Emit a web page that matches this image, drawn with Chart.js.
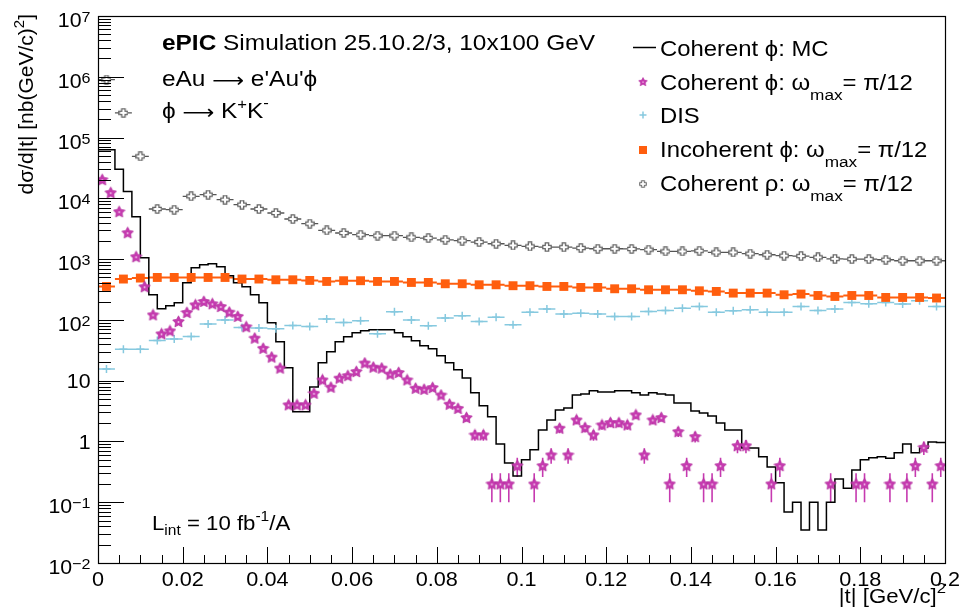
<!DOCTYPE html>
<html><head><meta charset="utf-8">
<script src="https://cdn.jsdelivr.net/npm/chart.js"></script>
<style>html,body{margin:0;padding:0;background:#fff;overflow:hidden}canvas{display:block}</style>
</head><body>
<canvas id="chart" width="963" height="613"></canvas>
<script>
// ---- binning (|t| in (GeV/c)^2) ----
const PHI_BIN_WIDTH = 0.002;   // 100 bins from 0 to 0.2
const WIDE_BIN_WIDTH = 0.004;  // 50 bins from 0 to 0.2

// ---- series values (nb/(GeV/c)^2) ----
const coherentPhiMC = [
  63000, 63000, 30000, 12900, 5000, 1050, 259, 152, 171, 191,
  408, 721, 808, 839, 749, 532, 408, 351, 259, 191,
  89.5, 43.6, 16.3, 3.07, 3.07, 7.9, 19.7, 29.9, 43.6, 52.7,
  61.4, 66.1, 68.7, 68.7, 68.7, 61.4, 52.7, 45.3, 37.5, 33.4,
  25.6, 19.7, 15.1, 11.1, 6.3, 3.85, 2.54, 0.91, 0.44, 0.27,
  0.50, 0.73, 1.55, 2.26, 3.30, 3.56, 5.83, 6.06, 6.80, 6.54,
  6.54, 6.80, 6.80, 6.3, 5.83, 6.3, 6.06, 5.83, 4.31, 4.31,
  3.18, 2.95, 2.63, 2.02, 1.55, 1.55, 0.78, 0.78, 0.56, 0.38,
  0.21, 0.069, 0.10, 0.035, 0.10, 0.035, 0.10, 0.24, 0.17, 0.34,
  0.50, 0.54, 0.56, 0.53, 0.65, 0.91, 0.65, 0.78, 0.98, 0.96
];
const coherentPhiOmega = [
  20300, 12400, 6030, 2720, 1094, 351, 121, 59, 66, 94,
  132, 177, 201, 184, 166, 134, 114, 77, 50, 34,
  24.4, 16.1, 4.0, 4.0, 4.0, 6.2, 10.3, 7.8, 11.0, 12.1,
  14.1, 19.5, 16.7, 16.1, 12.8, 13.6, 10.3, 7.5, 7.2, 7.7,
  5.8, 4.1, 3.5, 2.47, 1.28, 1.28, 0.2, 0.2, 0.2, 0.4,
  null, 0.2, 0.4, 0.6, 1.65, 0.6, 2.26, 1.69, 1.28, 1.87,
  2.04, 2.04, 1.87, 2.74, 0.6, 2.26, 2.47, 0.2, 1.45, 0.4,
  1.2, 0.2, 0.2, 0.4, null, 0.85, 0.85, null, null, 0.2,
  0.4, null, null, null, null, null, 0.2, null, null, 0.2,
  0.2, null, null, 0.2, null, 0.2, 0.4, 0.8, 0.2, 0.4
];
const coherentPhiOmegaErr = [
  32, 25, 17, 12, 7.4, 4.2, 2.5, 1.7, 1.8, 2.2,
  2.6, 3.0, 3.2, 3.0, 2.9, 2.6, 2.4, 2.0, 1.6, 1.3,
  1.1, 0.9, 0.45, 0.45, 0.45, 0.56, 0.72, 0.62, 0.74, 0.78,
  0.84, 1.0, 0.91, 0.9, 0.8, 0.82, 0.72, 0.61, 0.6, 0.62,
  0.54, 0.45, 0.42, 0.35, 0.25, 0.25, 0.1, 0.1, 0.1, 0.14,
  null, 0.1, 0.14, 0.17, 0.29, 0.17, 0.34, 0.29, 0.25, 0.31,
  0.32, 0.32, 0.31, 0.37, 0.17, 0.34, 0.35, 0.1, 0.27, 0.14,
  0.24, 0.1, 0.1, 0.14, null, 0.21, 0.21, null, null, 0.1,
  0.14, null, null, null, null, null, 0.1, null, null, 0.1,
  0.1, null, null, 0.1, null, 0.1, 0.14, 0.2, 0.1, 0.14
];
const disValues = [
  15.5, 33.0, 33.0, 45.8, 48.3, 53.3, 85.3, 100, 75, 73.3,
  71.3, 80.9, 77.8, 103, 90.6, 96.6, 59, 136, 100, 80,
  107, 117, 94, 111, 83, 134, 151, 125, 129, 125,
  114, 114, 137, 143, 156, 166, 134, 141, 147, 134,
  134, 166, 143, 151, 194, 184, 194, 182, 206, 166
];
const incoherentPhiOmega = [
  355, 470, 488, 499, 499, 499, 499, 499, 470, 470,
  457, 457, 446, 429, 441, 441, 429, 429, 413, 413,
  393, 393, 378, 378, 365, 365, 355, 355, 342, 342,
  325, 325, 313, 313, 313, 301, 294, 276, 276, 276,
  259, 266, 252, 243, 252, 252, 234, 234, 234, 229
];
const coherentRhoOmega = [
  900000, 255000, 49100, 6680, 6500, 10800, 11500, 9500, 7870, 6680,
  5740, 4570, 3830, 2970, 2690, 2520, 2430, 2430, 2280, 2220,
  2080, 2010, 1910, 1790, 1680, 1620, 1580, 1570, 1520, 1480,
  1480, 1470, 1430, 1340, 1340, 1370, 1290, 1290, 1230, 1180,
  1140, 1120, 1070, 1010, 1000, 1000, 977, 940, 940, 940
];

// ---- tick labels ----
const xTickValues = [0, 0.02, 0.04, 0.06, 0.08, 0.1, 0.12, 0.14, 0.16, 0.18, 0.2];
const xTickLabels = ['0', '0.02', '0.04', '0.06', '0.08', '0.1', '0.12', '0.14', '0.16', '0.18', '0.2'];
const xMinorStep = 0.005;
const yTickValues = [1e-2, 1e-1, 1, 10, 1e2, 1e3, 1e4, 1e5, 1e6, 1e7];
const yTickLabels = [['10','\u22122'],['10','\u22121'],['1',''],['10',''],['10','2'],['10','3'],['10','4'],['10','5'],['10','6'],['10','7']];

const COLORS = { mc: '#000000', star: '#c63ab0', dis: '#86c9df', incoh: '#ff5e0e', rho: '#666666' };
const FONT = '"Liberation Sans", Arial, Helvetica, sans-serif';
const ARROW_FONT = '"DejaVu Sans", sans-serif';
const SX = 1.11;

// ---- marker images ----
function makeStar(size, color) {
  const c = document.createElement('canvas'); c.width = c.height = size;
  const g = c.getContext('2d'); const cx = size / 2, cy = size / 2 + 0.4, R = size / 2 - 0.4, r = R * 0.52;
  g.beginPath();
  for (let k = 0; k < 10; k++) {
    const a = -Math.PI / 2 + k * Math.PI / 5, rad = (k % 2) ? r : R;
    const px = cx + rad * Math.cos(a), py = cy + rad * Math.sin(a);
    k ? g.lineTo(px, py) : g.moveTo(px, py);
  }
  g.closePath(); g.fillStyle = color; g.fill();
  g.lineWidth = 0.7; g.strokeStyle = '#b02c9c'; g.stroke();
  g.beginPath(); g.arc(cx, cy, R * 0.16, 0, 2 * Math.PI); g.fillStyle = '#f0c4ea'; g.fill();
  return c;
}
function makeOpenCross(size, color) {
  const c = document.createElement('canvas'); c.width = c.height = size;
  const g = c.getContext('2d'); const m = size / 2, a = size / 2 - 0.8, h = 1.7;
  g.beginPath();
  const pts = [[-h,-a],[h,-a],[h,-h],[a,-h],[a,h],[h,h],[h,a],[-h,a],[-h,h],[-a,h],[-a,-h],[-h,-h]];
  pts.forEach((p, i) => i ? g.lineTo(m + p[0], m + p[1]) : g.moveTo(m + p[0], m + p[1]));
  g.closePath(); g.fillStyle = '#fff'; g.fill(); g.lineWidth = 1.3; g.strokeStyle = color; g.stroke();
  return c;
}
const starImg = makeStar(13, COLORS.star);
const rhoImg = makeOpenCross(10, COLORS.rho);

function centerPoints(values, w) {
  const out = [];
  values.forEach((v, i) => { if (v !== null) out.push({ x: (i + 0.5) * w, y: v }); });
  return out;
}
function histPoints(values, w) {
  const out = [];
  values.forEach((v, i) => { out.push({ x: i * w, y: v }); out.push({ x: (i + 1) * w, y: v }); });
  return out;
}

function drawRich(ctx, x, y, segs, opt = {}) {
  const sx = opt.sx === undefined ? SX : opt.sx, align = opt.align || 'left';
  ctx.save(); ctx.translate(x, y); if (opt.rot) ctx.rotate(opt.rot); ctx.scale(sx, 1);
  ctx.fillStyle = opt.color || '#000'; ctx.textBaseline = 'alphabetic'; ctx.textAlign = 'left';
  const fontOf = s => `${s.bold ? 'bold ' : ''}${s.size}px ${s.family || FONT}`;
  let total = 0;
  const ws = segs.map(s => { ctx.font = fontOf(s); const w = ctx.measureText(s.t).width; total += w; return w; });
  let cx = align === 'right' ? -total : align === 'center' ? -total / 2 : 0;
  segs.forEach((s, k) => { ctx.font = fontOf(s); ctx.fillText(s.t, cx, s.dy || 0); cx += ws[k]; });
  ctx.restore();
}

const rootStyle = {
  id: 'rootStyle',
  beforeDatasetsDraw(chart) {
    const { ctx, chartArea: ca, scales: { x, y } } = chart;
    ctx.save();
    ctx.beginPath(); ctx.rect(ca.left, ca.top, ca.right - ca.left, ca.bottom - ca.top); ctx.clip();
    const hbars = (vals, w, color, lw) => {
      ctx.strokeStyle = color; ctx.lineWidth = lw; ctx.beginPath();
      vals.forEach((v, i) => {
        if (v === null) return;
        const py = y.getPixelForValue(v);
        ctx.moveTo(x.getPixelForValue(i * w), py); ctx.lineTo(x.getPixelForValue((i + 1) * w), py);
      });
      ctx.stroke();
    };
    hbars(disValues, WIDE_BIN_WIDTH, COLORS.dis, 1.5);
    hbars(incoherentPhiOmega, WIDE_BIN_WIDTH, COLORS.incoh, 2);
    hbars(coherentRhoOmega, WIDE_BIN_WIDTH, '#555', 1.3);
    ctx.strokeStyle = COLORS.star; ctx.lineWidth = 1.6; ctx.beginPath();
    coherentPhiOmega.forEach((v, i) => {
      if (v === null) return;
      const e = coherentPhiOmegaErr[i];
      const px = x.getPixelForValue((i + 0.5) * PHI_BIN_WIDTH);
      ctx.moveTo(px, y.getPixelForValue(v + e)); ctx.lineTo(px, y.getPixelForValue(Math.max(v - e, 1e-3)));
    });
    ctx.stroke();
    ctx.restore();
  },
  afterDraw(chart) {
    const { ctx, chartArea: ca, scales: { x, y } } = chart;
    ctx.save();
    // frame
    ctx.strokeStyle = '#000'; ctx.lineWidth = 1.2;
    ctx.strokeRect(Math.round(ca.left) + 0.5, Math.round(ca.top) + 0.5, Math.round(ca.right - ca.left), Math.round(ca.bottom - ca.top));
    // y ticks
    ctx.lineWidth = 1; ctx.beginPath();
    for (let e = -2; e <= 7; e++) {
      const py = Math.round(y.getPixelForValue(Math.pow(10, e))) + 0.5;
      ctx.moveTo(ca.left, py); ctx.lineTo(ca.left + 26, py);
      if (e < 7) for (let k = 2; k <= 9; k++) {
        const pm = Math.round(y.getPixelForValue(k * Math.pow(10, e))) + 0.5;
        ctx.moveTo(ca.left, pm); ctx.lineTo(ca.left + 13, pm);
      }
    }
    // x ticks
    const nMinor = Math.round(0.2 / xMinorStep);
    for (let i = 0; i <= nMinor; i++) {
      const px = Math.round(x.getPixelForValue(i * xMinorStep)) + 0.5;
      const len = (i % 4 === 0) ? 16 : 8;
      ctx.moveTo(px, ca.bottom); ctx.lineTo(px, ca.bottom - len);
    }
    ctx.stroke();
    // x tick labels
    xTickValues.forEach((v, i) => drawRich(ctx, x.getPixelForValue(v), 586, [{ t: xTickLabels[i], size: 19.5 }], { align: 'center' }));
    // y tick labels
    yTickValues.forEach((v, i) => {
      const py = y.getPixelForValue(v); const [b, ex] = yTickLabels[i];
      if (ex) drawRich(ctx, 90.5, py + 11, [{ t: b, size: 20.5 }, { t: ex, size: 15.5, dy: -5 }], { align: 'right', sx: 1.04 });
      else drawRich(ctx, 90.5, py + 7.5, [{ t: b, size: 20.5 }], { align: 'right', sx: 1.04 });
    });
    // axis titles
    drawRich(ctx, 946, 603, [{ t: '|t| [GeV/c]', size: 20 }, { t: '2', size: 15, dy: -10 }], { align: 'right' });
    drawRich(ctx, 33, 14, [{ t: 'd\u03c3/d|t| [nb(GeV/c)', size: 21 }, { t: '2', size: 15, dy: -9 }, { t: ']', size: 21 }], { align: 'right', rot: -Math.PI / 2, sx: 1 });
    // annotations
    drawRich(ctx, 162, 50, [{ t: 'ePIC', size: 22, bold: true }, { t: ' Simulation 25.10.2/3, 10x100 GeV', size: 22 }]);
    drawRich(ctx, 162, 86, [{ t: 'eAu ', size: 22 }, { t: '\u27f6', size: 20, family: ARROW_FONT, dy: 0.5 }, { t: ' e\'Au\'\u03d5', size: 22 }]);
    drawRich(ctx, 162, 118, [{ t: '\u03d5 ', size: 22 }, { t: '\u27f6', size: 20, family: ARROW_FONT, dy: 0.5 }, { t: ' K', size: 22 }, { t: '+', size: 15, dy: -9 }, { t: 'K', size: 22 }, { t: '-', size: 15, dy: -10 }]);
    drawRich(ctx, 152, 530, [{ t: 'L', size: 20 }, { t: 'int', size: 14, dy: 5 }, { t: ' = 10 fb', size: 20 }, { t: '-1', size: 14, dy: -9 }, { t: '/A', size: 20 }]);
    // legend
    const LX = 660, MX = 643, FS = 21.5, SS = 15.5;
    const omegaSegs = (name) => [{ t: name + ': \u03c9', size: FS }, { t: 'max', size: SS, dy: 10 }, { t: '= \u03c0/12', size: FS }];
    const rows = [
      { y: 56, segs: [{ t: 'Coherent \u03d5: MC', size: FS }], kind: 'line' },
      { y: 89.5, segs: omegaSegs('Coherent \u03d5'), kind: 'star' },
      { y: 123, segs: [{ t: 'DIS', size: FS }], kind: 'dis' },
      { y: 157.3, segs: omegaSegs('Incoherent \u03d5'), kind: 'incoh' },
      { y: 190.7, segs: omegaSegs('Coherent \u03c1'), kind: 'rho' }
    ];
    const markerY = [47.5, 81.7, 115, 150, 184];
    rows.forEach((r, i) => {
      drawRich(ctx, LX, r.y, r.segs);
      const my = markerY[i];
      if (r.kind === 'line') { ctx.strokeStyle = '#000'; ctx.lineWidth = 1.5; ctx.beginPath(); ctx.moveTo(633, my); ctx.lineTo(656, my); ctx.stroke(); }
      else if (r.kind === 'star') ctx.drawImage(starImg, MX - 5, my - 5, 10, 10);
      else if (r.kind === 'dis') { ctx.strokeStyle = COLORS.dis; ctx.lineWidth = 1.5; ctx.beginPath(); ctx.moveTo(MX - 3.5, my); ctx.lineTo(MX + 3.5, my); ctx.moveTo(MX, my - 3.5); ctx.lineTo(MX, my + 3.5); ctx.stroke(); }
      else if (r.kind === 'incoh') { ctx.fillStyle = COLORS.incoh; ctx.fillRect(MX - 4, my - 4, 8, 8); }
      else if (r.kind === 'rho') ctx.drawImage(rhoImg, MX - 4, my - 4, 8, 8);
    });
    ctx.restore();
  }
};

new Chart(document.getElementById('chart'), {
  type: 'scatter',
  data: {
    datasets: [
      { label: 'Coherent \u03d5: \u03c9max= \u03c0/12', data: centerPoints(coherentPhiOmega, PHI_BIN_WIDTH), pointStyle: starImg, pointRadius: 6.5, order: 0, showLine: false },
      { label: 'Coherent \u03c1: \u03c9max= \u03c0/12', data: centerPoints(coherentRhoOmega, WIDE_BIN_WIDTH), pointStyle: rhoImg, pointRadius: 5, order: 1, showLine: false },
      { label: 'Incoherent \u03d5: \u03c9max= \u03c0/12', data: centerPoints(incoherentPhiOmega, WIDE_BIN_WIDTH), pointStyle: 'rect', pointRadius: 6.3, backgroundColor: COLORS.incoh, borderWidth: 0, order: 2, showLine: false },
      { label: 'DIS', data: centerPoints(disValues, WIDE_BIN_WIDTH), pointStyle: 'cross', pointRadius: 4, borderColor: COLORS.dis, borderWidth: 1.5, order: 3, showLine: false },
      { label: 'Coherent \u03d5: MC', data: histPoints(coherentPhiMC, PHI_BIN_WIDTH), showLine: true, pointRadius: 0, borderColor: COLORS.mc, borderWidth: 1.5, fill: false, tension: 0, order: 4 }
    ]
  },
  options: {
    responsive: false, animation: false, devicePixelRatio: 1,
    layout: { padding: { left: 98, right: 18, top: 16, bottom: 50 } },
    plugins: { legend: { display: false }, tooltip: { enabled: false } },
    events: [],
    scales: {
      x: { type: 'linear', min: 0, max: 0.2, display: false },
      y: { type: 'logarithmic', min: 1e-2, max: 1e7, display: false }
    }
  },
  plugins: [rootStyle]
});
</script>
</body></html>
